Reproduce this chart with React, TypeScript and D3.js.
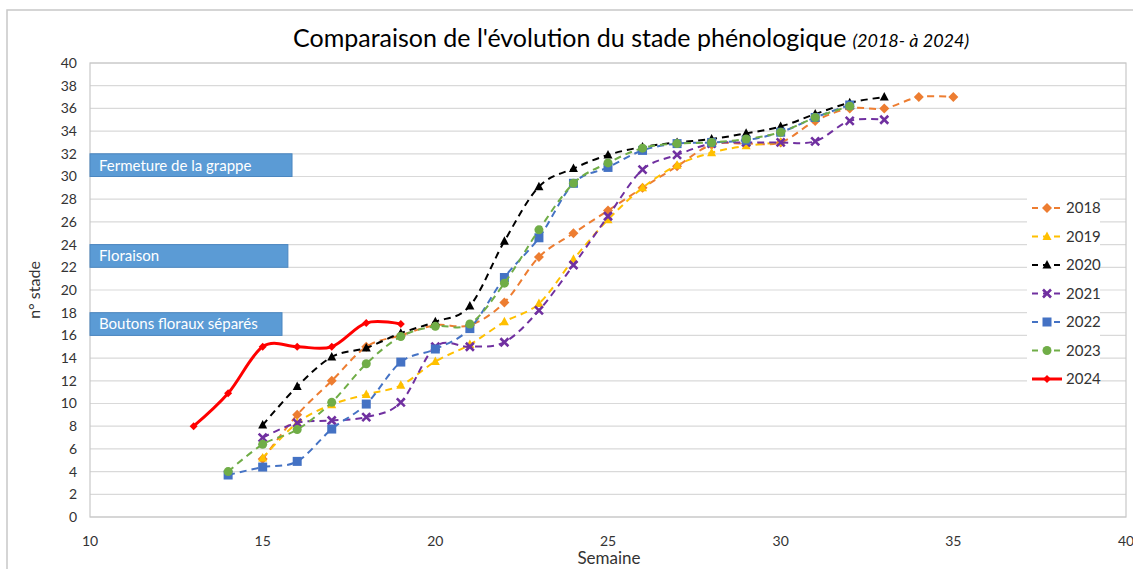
import React from 'react';
import * as d3 from 'd3';

// données (semaine -> n° stade)
const weeks2018 = [15, 16, 17, 18, 19, 20, 21, 22, 23, 24, 25, 26, 27, 28, 29, 30, 31, 32, 33, 34, 35];
const values2018 = [5.1, 9.0, 12.0, 15.0, 16.0, 16.9, 16.9, 18.9, 22.9, 25.0, 27.0, 29.0, 30.9, 32.8, 32.9, 33.0, 34.9, 36.0, 36.0, 37.0, 37.0];

const weeks2019 = [15, 16, 17, 18, 19, 20, 21, 22, 23, 24, 25, 26, 27, 28, 29, 30];
const values2019 = [5.2, 8.3, 9.9, 10.8, 11.6, 13.7, 15.2, 17.2, 18.8, 22.7, 26.2, 29.0, 31.0, 32.1, 32.7, 33.0];

const weeks2020 = [15, 16, 17, 18, 19, 20, 21, 22, 23, 24, 25, 26, 27, 28, 29, 30, 31, 32, 33];
const values2020 = [8.1, 11.5, 14.1, 14.9, 16.2, 17.2, 18.6, 24.3, 29.1, 30.7, 31.9, 32.6, 33.0, 33.3, 33.8, 34.4, 35.5, 36.5, 37.0];

const weeks2021 = [15, 16, 17, 18, 19, 20, 21, 22, 23, 24, 25, 26, 27, 28, 29, 30, 31, 32, 33];
const values2021 = [7.0, 8.3, 8.5, 8.8, 10.1, 15.0, 15.0, 15.4, 18.2, 22.2, 26.5, 30.6, 31.9, 32.9, 33.0, 33.0, 33.1, 34.9, 35.0];

const weeks2022 = [14, 15, 16, 17, 18, 19, 20, 21, 22, 23, 24, 25, 26, 27, 28, 29, 30, 31, 32];
const values2022 = [3.7, 4.4, 4.9, 7.75, 9.95, 13.65, 14.8, 16.6, 21.1, 24.6, 29.4, 30.8, 32.3, 32.9, 33.0, 33.2, 33.9, 35.2, 36.3];

const weeks2023 = [14, 15, 16, 17, 18, 19, 20, 21, 22, 23, 24, 25, 26, 27, 28, 29, 30, 31, 32];
const values2023 = [4.0, 6.4, 7.7, 10.1, 13.5, 15.9, 16.8, 17.0, 20.6, 25.3, 29.4, 31.2, 32.5, 32.9, 33.0, 33.3, 33.9, 35.2, 36.2];

const weeks2024 = [13, 14, 15, 16, 17, 18, 19];
const values2024 = [8.0, 10.9, 15.0, 15.0, 15.0, 17.1, 17.0];

const xTicks = [10, 15, 20, 25, 30, 35, 40];
const yTicks = [0, 2, 4, 6, 8, 10, 12, 14, 16, 18, 20, 22, 24, 26, 28, 30, 32, 34, 36, 38, 40];

// stades repères (bandeaux bleus)
const stageLabels = ['Fermeture de la grappe', 'Floraison', 'Boutons floraux séparés'];
const stageLow = [30, 22, 16];
const stageHigh = [32, 24, 18];
const stageEnd = [15.85, 15.73, 15.56];

const series = [
  { name: '2018', weeks: weeks2018, values: values2018, color: '#ED7D31', marker: 'diamond', dashed: true },
  { name: '2019', weeks: weeks2019, values: values2019, color: '#FFC000', marker: 'triangle', dashed: true },
  { name: '2020', weeks: weeks2020, values: values2020, color: '#000000', marker: 'triangle', dashed: true },
  { name: '2021', weeks: weeks2021, values: values2021, color: '#7030A0', marker: 'x', dashed: true },
  { name: '2022', weeks: weeks2022, values: values2022, color: '#4472C4', marker: 'square', dashed: true },
  { name: '2023', weeks: weeks2023, values: values2023, color: '#70AD47', marker: 'circle', dashed: true },
  { name: '2024', weeks: weeks2024, values: values2024, color: '#FF0000', marker: 'smalldiamond', dashed: false },
];

const W = 1133;
const H = 569;
const m = { left: 90, right: 1126, top: 63, bottom: 517 };
const font = 'Lato, "Open Sans", sans-serif';

const x = d3.scaleLinear().domain([10, 40]).range([m.left, m.right]);
const y = d3.scaleLinear().domain([0, 40]).range([m.bottom, m.top]);

function Marker({ kind, cx, cy, color }: { kind: string; cx: number; cy: number; color: string }) {
  if (kind === 'diamond') {
    const r = 5;
    return <path d={`M${cx},${cy - r}L${cx + r},${cy}L${cx},${cy + r}L${cx - r},${cy}Z`} fill={color} />;
  }
  if (kind === 'smalldiamond') {
    const r = 4;
    return <path d={`M${cx},${cy - r}L${cx + r},${cy}L${cx},${cy + r}L${cx - r},${cy}Z`} fill={color} />;
  }
  if (kind === 'triangle') {
    return <path d={`M${cx},${cy - 5}L${cx + 4.5},${cy + 3.5}L${cx - 4.5},${cy + 3.5}Z`} fill={color} />;
  }
  if (kind === 'square') {
    return <rect x={cx - 4.5} y={cy - 4.5} width={9} height={9} fill={color} />;
  }
  if (kind === 'circle') {
    return <circle cx={cx} cy={cy} r={4.5} fill={color} />;
  }
  // x
  const r = 4;
  return (
    <path d={`M${cx - r},${cy - r}L${cx + r},${cy + r}M${cx - r},${cy + r}L${cx + r},${cy - r}`}
      stroke={color} strokeWidth={2.6} fill="none" />
  );
}

export default function App() {
  const line = d3.line<[number, number]>()
    .x((d) => x(d[0]))
    .y((d) => y(d[1]))
    .curve(d3.curveCardinal.tension(0));

  const legendY = (i: number) => 208 + i * 28.5;

  return (
    <svg width={W} height={H} style={{ position: 'absolute', left: 0, top: 0, background: '#fff' }}
      fontFamily={font}>
      <rect x={7} y={10} width={1140} height={600} fill="#fff" stroke="#c8c8c8" strokeWidth={1.5} />

      <text x={293} y={47} fontSize={25} fill="#000">
        Comparaison de l'évolution du stade phénologique
        <tspan fontSize={18} fontStyle="italic" dx={6}>(2018- à 2024)</tspan>
      </text>

      {/* quadrillage */}
      {yTicks.map((t) => (
        <line key={'g' + t} x1={m.left} x2={m.right} y1={y(t)} y2={y(t)} stroke="#d9d9d9" strokeWidth={1.2} />
      ))}
      <rect x={m.left} y={m.top} width={m.right - m.left} height={m.bottom - m.top}
        fill="none" stroke="#c8c8c8" strokeWidth={1.2} />

      {yTicks.map((t) => (
        <text key={'y' + t} x={77} y={y(t)} dy="0.35em" textAnchor="end" fontSize={14} fill="#333">{t}</text>
      ))}
      {xTicks.map((t) => (
        <text key={'x' + t} x={x(t)} y={541} dy="0.35em" textAnchor="middle" fontSize={14} fill="#333">{t}</text>
      ))}

      <text transform={`translate(40,290) rotate(-90)`} textAnchor="middle" fontSize={16} fill="#333">n° stade</text>
      <text x={609} y={564} textAnchor="middle" fontSize={17} fill="#333">Semaine</text>

      {/* bandeaux de stade */}
      {stageLabels.map((s, i) => (
        <g key={s}>
          <rect x={x(10)} y={y(stageHigh[i])} width={x(stageEnd[i]) - x(10)} height={y(stageLow[i]) - y(stageHigh[i])}
            fill="#5B9BD5" stroke="#4A86C0" strokeWidth={1} />
          <text x={x(10) + 9} y={y(stageLow[i]) - 6} fontSize={15} fill="#fff">{s}</text>
        </g>
      ))}

      {/* séries */}
      {series.map((s) => {
        const pts = s.weeks.map((w, i) => [w, s.values[i]] as [number, number]);
        return (
          <g key={s.name}>
            <path d={line(pts) || ''} fill="none" stroke={s.color}
              strokeWidth={s.dashed ? 2 : 3} strokeDasharray={s.dashed ? '7,5' : undefined} />
            {pts.map((p, i) => (
              <Marker key={i} kind={s.marker} cx={x(p[0])} cy={y(p[1])} color={s.color} />
            ))}
          </g>
        );
      })}

      {/* légende */}
      <rect x={1027} y={192} width={73} height={202} fill="#fff" />
      {series.map((s, i) => (
        <g key={'l' + s.name}>
          <line x1={1032} x2={1062} y1={legendY(i)} y2={legendY(i)} stroke={s.color}
            strokeWidth={s.dashed ? 2 : 3} strokeDasharray={s.dashed ? '6,5' : undefined} />
          <Marker kind={s.marker} cx={1047} cy={legendY(i)} color={s.color} />
          <text x={1066} y={legendY(i)} dy="0.36em" fontSize={15} fill="#333">{s.name}</text>
        </g>
      ))}
    </svg>
  );
}
